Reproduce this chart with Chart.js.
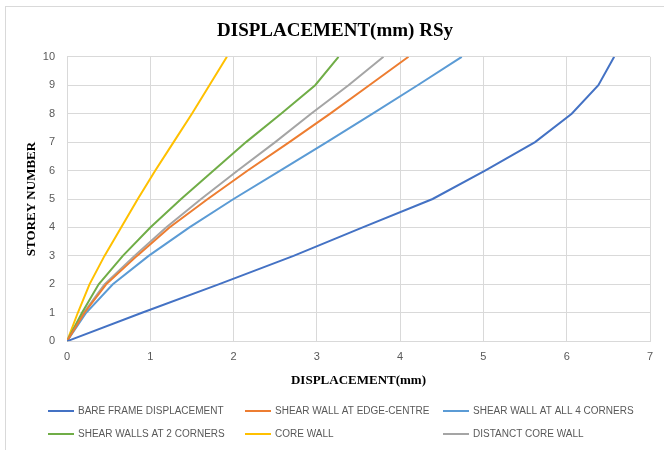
<!DOCTYPE html>
<html>
<head>
<meta charset="utf-8">
<script src="https://cdn.jsdelivr.net/npm/chart.js@4"></script>
<style>
  html, body { margin: 0; padding: 0; background: #fff; }
  #wrap { width: 664px; height: 450px; position: relative; }
</style>
</head>
<body>
<div id="wrap"><canvas id="myChart"></canvas></div>
<script>
// storey levels and displacement per storey
const storeys = [0, 1, 2, 3, 4, 5, 6, 7, 8, 9, 10];
const bareFrame = [0, 0.90, 1.82, 2.72, 3.55, 4.39, 5.02, 5.62, 6.06, 6.38, 6.57];
const edgeCentre = [0, 0.21, 0.47, 0.84, 1.23, 1.69, 2.17, 2.67, 3.16, 3.63, 4.10];
const fourCorners = [0, 0.23, 0.55, 0.98, 1.47, 2.0, 2.56, 3.12, 3.67, 4.21, 4.74];
const twoCorners = [0, 0.18, 0.38, 0.67, 1.0, 1.37, 1.76, 2.15, 2.57, 2.98, 3.26];
const coreWall = [0, 0.13, 0.27, 0.45, 0.65, 0.85, 1.06, 1.28, 1.50, 1.71, 1.92];
const distantCore = [0, 0.20, 0.45, 0.81, 1.19, 1.61, 2.05, 2.50, 2.93, 3.38, 3.80];

const seriesNames = ['BARE FRAME DISPLACEMENT', 'SHEAR WALL AT EDGE-CENTRE', 'SHEAR WALL AT ALL 4 CORNERS',
                     'SHEAR WALLS AT 2 CORNERS', 'CORE WALL', 'DISTANCT CORE WALL'];
const seriesValues = [bareFrame, edgeCentre, fourCorners, twoCorners, coreWall, distantCore];
const colors = ['#4472C4', '#ED7D31', '#5B9BD5', '#70AD47', '#FFC000', '#A5A5A5'];

const datasets = seriesNames.map((name, i) => ({
    label: name,
    data: seriesValues[i].map((x, k) => ({ x: x, y: storeys[k] })),
    borderColor: colors[i],
    backgroundColor: colors[i],
    borderWidth: 2,
    pointRadius: 0,
    showLine: true,
    tension: 0
}));

// excel style legend: fixed 3 column grid under the plot
const gridLegend = {
    id: 'gridLegend',
    afterDraw(chart) {
        const ctx = chart.ctx;
        const colX = [48, 245, 443];
        const rowY = [411, 434];
        ctx.save();
        ctx.font = '10px "Liberation Sans", Arial, sans-serif';
        ctx.textBaseline = 'middle';
        ctx.fillStyle = '#595959';
        chart.data.datasets.forEach((ds, i) => {
            const x = colX[i % 3], y = rowY[Math.floor(i / 3)];
            ctx.strokeStyle = ds.borderColor;
            ctx.lineWidth = 2;
            ctx.beginPath();
            ctx.moveTo(x, y);
            ctx.lineTo(x + 26, y);
            ctx.stroke();
            ctx.fillText(ds.label, x + 30, y + 0.5);
        });
        ctx.restore();
    }
};

const frame = {
    id: 'frame',
    beforeDraw(chart) {
        const ctx = chart.ctx;
        ctx.save();
        ctx.fillStyle = '#fff';
        ctx.fillRect(0, 0, chart.width, chart.height);
        ctx.strokeStyle = '#d9d9d9';
        ctx.lineWidth = 1;
        ctx.strokeRect(5.5, 6.5, 700, 500);
        ctx.restore();
    }
};

const ctx1 = document.getElementById('myChart').getContext('2d');
const myChart = new Chart(ctx1, {
    type: 'scatter',
    data: { datasets: datasets },
    plugins: [frame, gridLegend],
    options: {
        responsive: true,
        maintainAspectRatio: false,
        animation: false,
        layout: { padding: { left: 20, right: 14, top: 8, bottom: 58 } },
        plugins: {
            legend: { display: false },
            tooltip: { enabled: false },
            title: {
                display: true,
                text: 'DISPLACEMENT(mm) RSy',
                color: '#000',
                font: { family: '"Liberation Serif", "Times New Roman", serif', size: 19, weight: 'bold' },
                padding: { top: 12, bottom: 14 }
            }
        },
        scales: {
            x: {
                type: 'linear',
                min: 0,
                max: 7,
                ticks: { stepSize: 1, color: '#595959', font: { family: '"Liberation Sans", Arial, sans-serif', size: 11 }, padding: 9 },
                grid: { color: '#d9d9d9', drawTicks: false },
                border: { color: '#d9d9d9' },
                title: {
                    display: true,
                    text: 'DISPLACEMENT(mm)',
                    color: '#000',
                    font: { family: '"Liberation Serif", "Times New Roman", serif', size: 13, weight: 'bold' },
                    padding: { top: 0 }
                }
            },
            y: {
                type: 'linear',
                min: 0,
                max: 10,
                afterFit(scale) { scale.width = 47; },
                ticks: { stepSize: 1, color: '#595959', font: { family: '"Liberation Sans", Arial, sans-serif', size: 11 }, padding: 12 },
                grid: { color: '#d9d9d9', drawTicks: false },
                border: { color: '#d9d9d9' },
                title: {
                    display: true,
                    text: 'STOREY NUMBER',
                    color: '#000',
                    font: { family: '"Liberation Serif", "Times New Roman", serif', size: 13, weight: 'bold' },
                    padding: { top: 4, bottom: 0 }
                }
            }
        }
    }
});
</script>
</body>
</html>
